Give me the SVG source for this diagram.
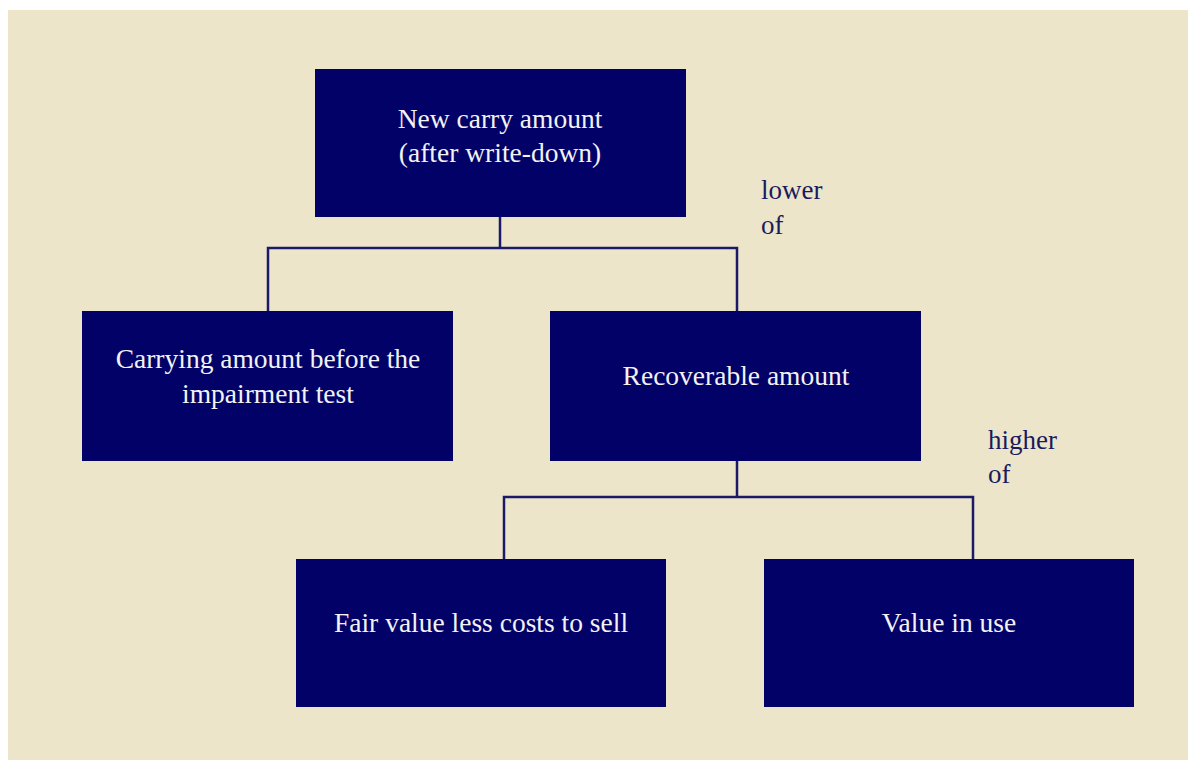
<svg xmlns="http://www.w3.org/2000/svg" width="1188" height="760" viewBox="0 0 1188 760">
<style>
.box{fill:#020168;}
.t{font-family:"Liberation Serif","Times New Roman",serif;font-size:27.5px;fill:#f2f2f2;text-anchor:middle;}
.lbl{font-family:"Liberation Serif","Times New Roman",serif;font-size:27px;fill:#1a1a5e;}
.c{fill:none;stroke:#1a1a68;stroke-width:2.5;}
</style>
<rect x="0" y="0" width="1188" height="760" fill="#ffffff"/>
<rect x="8" y="10" width="1180" height="750" fill="#ECE5CA"/>
<g id="connectors">
<path class="c" d="M500,217 V248 M268,311 V248 H737 V311"/>
<path class="c" d="M737,461 V497 M504,559 V497 H973 V559"/>
</g>
<g id="node-new-carry">
<rect class="box" x="315" y="69" width="371" height="148"/>
<text class="t" x="500" y="128">New carry amount</text>
<text class="t" x="500" y="162">(after write-down)</text>
</g>
<g id="node-carrying">
<rect class="box" x="82" y="311" width="371" height="150"/>
<text class="t" x="268" y="368">Carrying amount before the</text>
<text class="t" x="268" y="403">impairment test</text>
</g>
<g id="node-recoverable">
<rect class="box" x="550" y="311" width="371" height="150"/>
<text class="t" x="736" y="385">Recoverable amount</text>
</g>
<g id="node-fair-value">
<rect class="box" x="296" y="559" width="370" height="148"/>
<text class="t" x="481" y="632">Fair value less costs to sell</text>
</g>
<g id="node-value-in-use">
<rect class="box" x="764" y="559" width="370" height="148"/>
<text class="t" x="949" y="632">Value in use</text>
</g>
<g id="labels">
<text class="lbl" x="761" y="199">lower</text>
<text class="lbl" x="761" y="234">of</text>
<text class="lbl" x="988" y="449">higher</text>
<text class="lbl" x="988" y="483">of</text>
</g>
</svg>
